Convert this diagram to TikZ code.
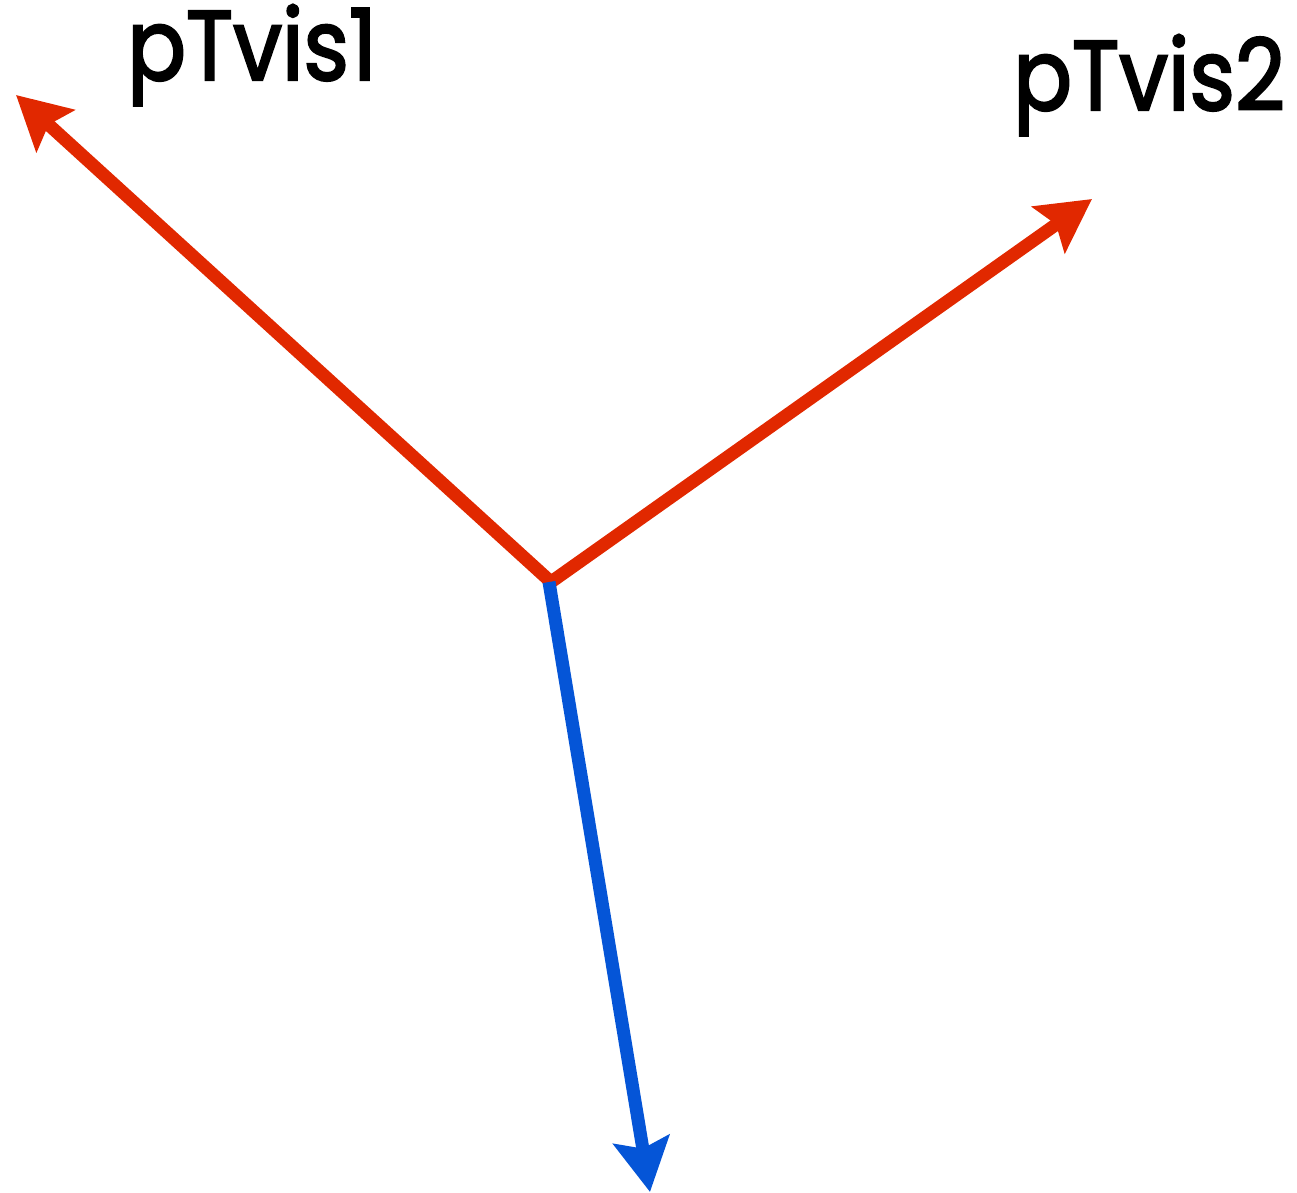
\documentclass[tikz,border=0pt]{standalone}
\usepackage{fontspec}
\newfontfamily\lblfont{Poppins}[FakeBold=2.5]
\usetikzlibrary{arrows.meta}
\definecolor{vred}{RGB}{225,40,0}
\definecolor{vblue}{RGB}{5,85,215}
\tikzset{
  vec/.style={line width=13pt, -{Stealth[length=53pt, width=56pt, inset=9pt]}},
  lbl/.style={inner sep=0pt, anchor=base west, xscale=0.88, font=\lblfont\fontsize{99}{99}\selectfont}
}
\begin{document}
\begin{tikzpicture}[x=1pt,y=-1pt]
\useasboundingbox (0,0) rectangle (1297,1192);
\coordinate (o) at (551,582);
\coordinate (t1) at (16,95);
\coordinate (t2) at (1092,199);
\coordinate (ob) at (549,582);
\coordinate (t3) at (650,1192);
\draw[vec, vred] (o) -- (t1);
\draw[vec, vred] (o) -- (t2);
\draw[vec, vblue] (ob) -- (t3);
\node[lbl] (l1) at (127,80) {pTvis1};
\node[lbl] (l2) at (1013,110) {pTvis2};
\end{tikzpicture}
\end{document}
